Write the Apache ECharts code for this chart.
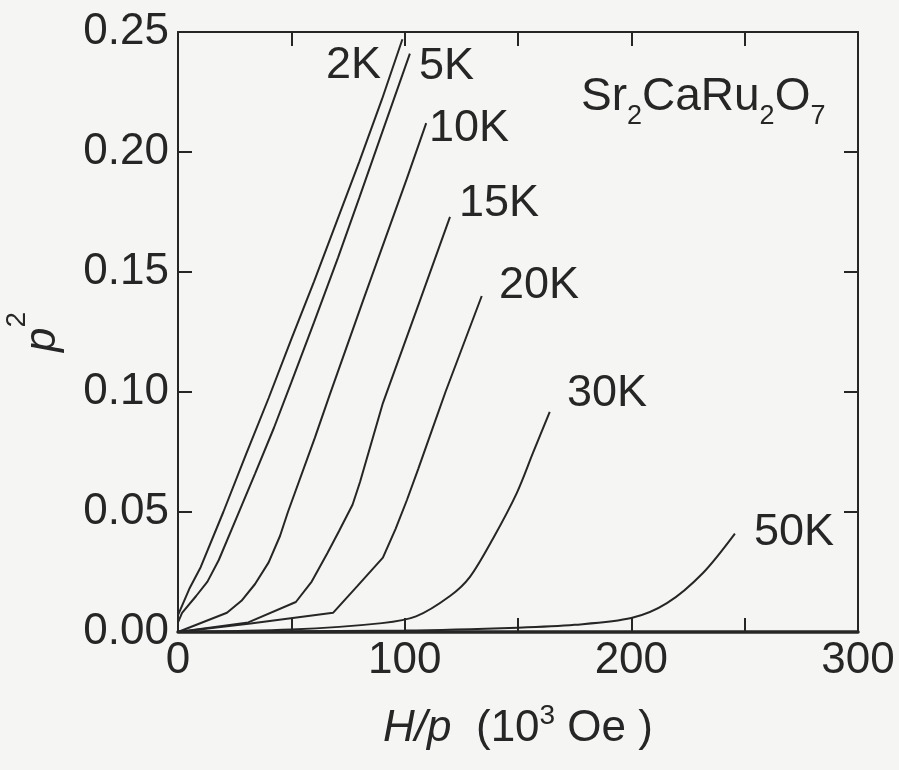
<!DOCTYPE html>
<html><head><meta charset="utf-8">
<script src="https://cdn.jsdelivr.net/npm/echarts@6/dist/echarts.min.js"></script>
<style>html,body{margin:0;padding:0;background:#f5f5f3}#c{width:899px;height:770px}</style>
</head><body><div id="c"></div>
<script>
// ---- data (H/p in 10^3 Oe, p^2) ----
const xRange = [0, 300];
const yRange = [0, 0.25];
const xTickStep = 50;
const yTickStep = 0.05;
const curveNames = ['2K', '5K', '10K', '15K', '20K', '30K', '50K'];
const c2K = [[0,0.007],[5,0.018],[10,0.027],[20,0.05],[30,0.074],[40,0.0975],[50,0.122],[60,0.146],[70,0.171],[80,0.196],[90,0.222],[99,0.247]];
const c5K = [[0,0.004],[1.8,0.008],[8,0.015],[13,0.021],[18,0.03],[26,0.048],[34,0.066],[42.3,0.085],[50,0.104],[60,0.129],[70.6,0.156],[80,0.181],[90,0.208],[102.3,0.241]];
const c10K = [[0,0],[21.6,0.008],[28,0.013],[34,0.02],[40,0.029],[45,0.04],[48.5,0.05],[60.4,0.081],[67,0.099],[81.6,0.138],[101,0.189],[109.5,0.212]];
const c15K = [[0,0],[31,0.004],[52,0.0125],[59,0.021],[66,0.033],[71,0.042],[77,0.053],[80.3,0.0625],[90.4,0.0954],[106.7,0.138],[120,0.173]];
const c20K = [[0,0],[32,0.0035],[68.4,0.008],[79,0.019],[90.4,0.031],[96,0.043],[101,0.055],[106,0.068],[112,0.084],[118,0.1],[126,0.12],[134,0.14]];
const c30K = [[0,0],[50,0.001],[90,0.0037],[105,0.0065],[120,0.015],[128.8,0.023],[139,0.039],[149.5,0.058],[156.6,0.0746],[164,0.0917]];
const c50K = [[0,0],[100,0.0006],[150,0.0018],[175,0.003],[200,0.0058],[215.7,0.012],[231.6,0.0246],[245.7,0.041]];
const curves = [c2K, c5K, c10K, c15K, c20K, c30K, c50K];
const curveSmooth = [false, false, false, false, false, 0.3, 0.3];
// label anchor positions (left, vertical centre) in px
const labelPos = [[326,66],[419,67],[429,129],[459,204],[499,286],[567,394],[754,533]];
const compound = '{n|Sr}{s|2}{n|CaRu}{s|2}{n|O}{s|7}';

const ink = '#262626';
const FF = '"Liberation Sans", Arial, Helvetica, sans-serif';
const FS = 44;
const LFS = 45;

const chart = echarts.init(document.getElementById('c'), null, {renderer: 'canvas'});

function xAxisDef(pos, showLabel, lw) {
  return {
    type: 'value', position: pos, min: xRange[0], max: xRange[1], interval: xTickStep,
    nameMoveOverlap: false,
    axisLine: {show: true, onZero: false, lineStyle: {color: ink, width: lw}},
    axisTick: {show: true, inside: true, length: 14, lineStyle: {color: ink, width: 2}},
    splitLine: {show: false},
    axisLabel: {show: showLabel, fontSize: FS, fontFamily: FF, color: ink, margin: 7,
      formatter: v => (v % 100 === 0 ? String(v) : '')}
  };
}
function yAxisDef(pos, showLabel) {
  return {
    type: 'value', position: pos, min: yRange[0], max: yRange[1], interval: yTickStep,
    nameMoveOverlap: false,
    axisLine: {show: true, onZero: false, lineStyle: {color: ink, width: 2}},
    axisTick: {show: true, inside: true, length: 14, lineStyle: {color: ink, width: 2}},
    splitLine: {show: false},
    axisLabel: {show: showLabel, fontSize: FS, fontFamily: FF, color: ink, margin: 9,
      formatter: v => v.toFixed(2)}
  };
}

const xa = xAxisDef('bottom', true, 3.5);
xa.name = '{i|H/p}{n|  (10}{s|3}{n| Oe )}';
xa.nameLocation = 'middle';
xa.nameGap = 70;
xa.nameTextStyle = {
  rich: {
    i: {fontSize: FS, fontFamily: FF, fontStyle: 'italic', color: ink, lineHeight: 49, verticalAlign: 'bottom'},
    n: {fontSize: FS, fontFamily: FF, color: ink, lineHeight: 49, verticalAlign: 'bottom'},
    s: {fontSize: 28, fontFamily: FF, color: ink, lineHeight: 28, verticalAlign: 'top'}
  }
};
const ya = yAxisDef('left', true);
ya.name = '{i|p}{s|2}';
ya.nameLocation = 'middle';
ya.nameRotate = 90;
ya.nameGap = 113;
ya.nameTextStyle = {
  rich: {
    i: {fontSize: FS, fontFamily: FF, fontStyle: 'italic', color: ink, lineHeight: 62, verticalAlign: 'bottom'},
    s: {fontSize: 28, fontFamily: FF, color: ink, lineHeight: 28, verticalAlign: 'top'}
  }
};

const graphics = curveNames.map((t, i) => ({
  type: 'text', x: labelPos[i][0], y: labelPos[i][1], silent: true,
  style: {text: t, fontSize: LFS, fontFamily: FF, fill: ink, align: 'left', verticalAlign: 'middle'}
}));
graphics.push({
  type: 'text', x: 581, y: 74, silent: true,
  style: {text: compound, align: 'left', verticalAlign: 'top',
    rich: {
      n: {fontSize: 46, fontFamily: FF, fill: ink, color: ink, lineHeight: 46, verticalAlign: 'top'},
      s: {fontSize: 27, fontFamily: FF, fill: ink, color: ink, lineHeight: 27, padding: [29,0,0,0], verticalAlign: 'top'}
    }}
});

chart.setOption({
  animation: false,
  backgroundColor: '#f5f5f3',
  grid: {left: 178, right: 41, top: 32, bottom: 138, containLabel: false, outerBoundsMode: 'none'},
  xAxis: [xa, xAxisDef('top', false, 2)],
  yAxis: [ya, yAxisDef('right', false)],
  series: curves.map((d, i) => ({
    name: curveNames[i], type: 'line', data: d, xAxisIndex: 0, yAxisIndex: 0,
    showSymbol: false, symbol: 'none', smooth: curveSmooth[i],
    lineStyle: {color: ink, width: 2}, z: 3
  })),
  graphic: graphics
});
</script></body></html>
